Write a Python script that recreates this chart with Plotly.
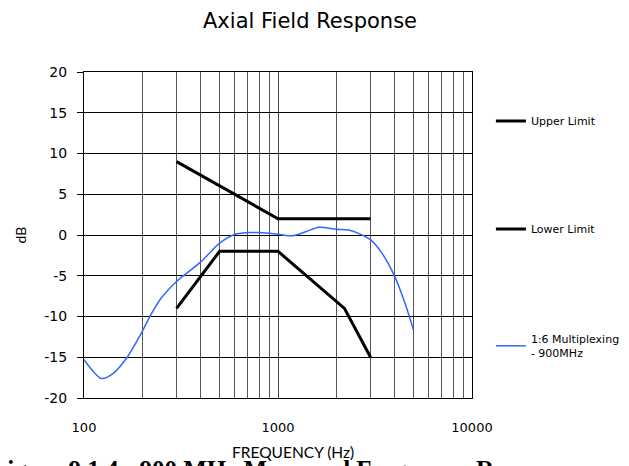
import plotly.graph_objects as go

# Data
upper_freq = [300, 1000, 3000]
upper_db = [9, 2, 2]

lower_freq = [300, 500, 1000, 2200, 3000]
lower_db = [-9, -2, -2, -9, -15]

meas_freq = [100, 123, 141, 168, 197, 221, 249, 300, 400, 500, 600, 700, 800,
             1000, 1184, 1387, 1623, 2000, 2306, 2600, 3000, 3427, 4000, 4520, 5000]
meas_db = [-15.3, -17.6, -17.0, -14.9, -12.1, -9.8, -7.8, -5.7, -3.3, -1.0, 0.1, 0.3, 0.3,
           0.1, -0.1, 0.4, 0.95, 0.7, 0.6, 0.2, -0.6, -2.2, -5.1, -8.4, -11.7]

x_tick_vals = [100, 1000, 10000]
x_tick_text = ["100", "1000", "10000"]
y_tick_vals = [-20, -15, -10, -5, 0, 5, 10, 15, 20]
y_tick_text = ["-20", "-15", "-10", "-5", "0", "5", "10", "15", "20"]

# page is offset by body margin of 8px
OFF = 8
W, H = 629, 466
PL, PR, PT, PB = 84, 474, 72, 398  # plot area in page pixels
L = PL - OFF
T = PT - OFF
R = W - (PR - OFF)
B = H - (PB - OFF)
pw = PR - PL
ph = PB - PT

def px(xp):
    return (xp - PL) / pw

def py(yp):
    return (PB - yp) / ph

fig = go.Figure()
fig.add_trace(go.Scatter(x=upper_freq, y=upper_db, mode="lines", name="Upper Limit",
                         line=dict(color="black", width=3), legend="legend"))
fig.add_trace(go.Scatter(x=lower_freq, y=lower_db, mode="lines", name="Lower Limit",
                         line=dict(color="black", width=3), legend="legend2"))
fig.add_trace(go.Scatter(x=meas_freq, y=meas_db, mode="lines", name="1:6 Multiplexing<br>- 900MHz",
                         line=dict(color="#3366FF", width=1.5, shape="spline", smoothing=0.8),
                         legend="legend3"))

legfont = dict(family="DejaVu Sans, sans-serif", size=11, color="black")
leg_common = dict(xanchor="left", yanchor="middle", font=legfont, bgcolor="rgba(0,0,0,0)",
                  itemwidth=30, borderwidth=0, tracegroupgap=0)

fig.update_layout(
    width=W, height=H, autosize=False,
    margin=dict(l=L, r=R, t=T, b=B),
    paper_bgcolor="white", plot_bgcolor="white",
    showlegend=True,
    legend=dict(x=px(493), y=py(121), **leg_common),
    legend2=dict(x=px(493), y=py(229), **leg_common),
    legend3=dict(x=px(493), y=py(346), **leg_common),
    xaxis=dict(type="log", range=[2, 4], tickvals=x_tick_vals, ticktext=x_tick_text,
               showgrid=True, gridcolor="#444444", gridwidth=1,
               minor=dict(dtick="D1", showgrid=True, gridcolor="#555555", gridwidth=1, ticks=""),
               showline=True, linecolor="black", linewidth=1, mirror=True,
               ticks="", ticklabelstandoff=17,
               tickfont=dict(family="DejaVu Sans, sans-serif", size=13, color="black"),
               zeroline=False),
    yaxis=dict(range=[-20, 20], tickvals=y_tick_vals, ticktext=y_tick_text,
               showgrid=True, gridcolor="black", gridwidth=1,
               showline=True, linecolor="black", linewidth=1, mirror=True,
               ticks="outside", ticklen=6, tickcolor="black", ticklabelstandoff=7,
               tickfont=dict(family="DejaVu Sans, sans-serif", size=14, color="black"),
               title=dict(text="dB", standoff=14,
                          font=dict(family="Lato, sans-serif", size=14, color="black")),
               zeroline=False),
)

# chart title (centred on the whole chart area)
fig.add_annotation(text="Axial Field Response", xref="paper", yref="paper",
                   x=px(311), y=py(21), xanchor="center", yanchor="middle", showarrow=False,
                   font=dict(family="DejaVu Sans, sans-serif", size=21, color="black"))
# caption (cut off at bottom, as in source)
fig.add_annotation(text="<b>Figure 9.1.4:  900 MHz Measured Frequency Response</b>",
                   xref="paper", yref="paper", x=px(-10), y=py(469), xanchor="left", yanchor="middle",
                   showarrow=False,
                   font=dict(family="Liberation Serif, serif", size=25, color="black"))
# x-axis title drawn on top of caption
fig.add_annotation(text="FREQUENCY (Hz)", xref="paper", yref="paper",
                   x=px(294), y=py(452), xanchor="center", yanchor="middle", showarrow=False,
                   font=dict(family="Lato, sans-serif", size=15.5, color="black"))

fig.write_html("out.html")
